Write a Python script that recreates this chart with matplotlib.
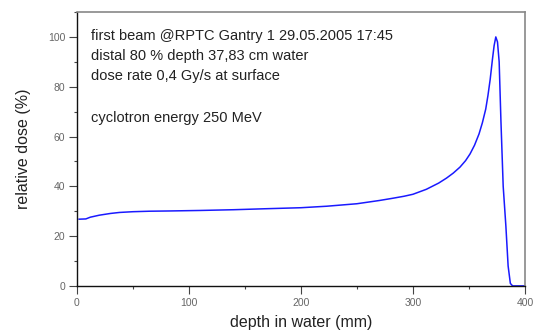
import matplotlib
matplotlib.use("Agg")
import matplotlib.pyplot as plt
from matplotlib.ticker import MultipleLocator

plt.rcParams['font.family'] = ['Liberation Sans', 'DejaVu Sans']

# depth-dose curve
depth = [2, 8, 12, 20, 30, 38, 50, 65, 83, 110, 140, 169, 200, 223, 250, 270,
         282, 292, 300, 312, 323, 330, 336, 342, 347, 351, 355, 359, 362, 365,
         367, 369, 371, 372.5, 374, 375.5, 377, 378.6, 380.6, 383, 385, 387,
         389, 395, 400]
dose = [26.8, 26.9, 27.6, 28.4, 29.1, 29.5, 29.8, 30.0, 30.1, 30.3, 30.6, 31.0,
        31.4, 32.0, 33.0, 34.3, 35.2, 36.0, 36.8, 38.8, 41.3, 43.3, 45.3, 47.7,
        50.3, 53.0, 56.5, 61.0, 65.5, 71.0, 76.5, 83.0, 91.0, 96.5, 100.0, 98.0,
        90.0, 66.0, 40.0, 24.0, 8.0, 1.0, 0.0, 0.0, 0.0]

info_lines = [
    "first beam @RPTC Gantry 1 29.05.2005 17:45",
    "distal 80 % depth 37,83 cm water",
    "dose rate 0,4 Gy/s at surface",
    "cyclotron energy 250 MeV",
]
info_y = [0.914, 0.840, 0.766, 0.613]

fig = plt.figure(figsize=(5.34, 3.34), dpi=100)
ax = fig.add_axes([0.144, 0.144, 0.839, 0.820])

ax.plot(depth, dose, color='#1a1aff', linewidth=1.1)

ax.set_xlim(0, 400)
ax.set_ylim(0, 110)
ax.xaxis.set_major_locator(MultipleLocator(100))
ax.xaxis.set_minor_locator(MultipleLocator(50))
ax.yaxis.set_minor_locator(MultipleLocator(10))
ax.set_yticks([0, 20, 40, 60, 80, 100])
ax.tick_params(which='major', direction='out', length=5.5, width=0.8,
               labelsize=7.5, labelcolor='#666666', color='#444444', pad=3)
ax.tick_params(which='minor', direction='out', length=2.5, width=0.8,
               color='#444444')

for side in ['top', 'right']:
    ax.spines[side].set_color('#888888')
    ax.spines[side].set_linewidth(1.2)
for side in ['left', 'bottom']:
    ax.spines[side].set_color('#111111')
    ax.spines[side].set_linewidth(1.0)

ax.set_xlabel('depth in water (mm)', fontsize=11.5, color='#222222', labelpad=5)
ax.set_ylabel('relative dose (%)', fontsize=11.5, color='#222222', labelpad=12)

for txt, y in zip(info_lines, info_y):
    ax.text(0.031, y, txt, transform=ax.transAxes, fontsize=10.5,
            color='#222222', va='center', ha='left')

fig.savefig('out.png', dpi=100)
